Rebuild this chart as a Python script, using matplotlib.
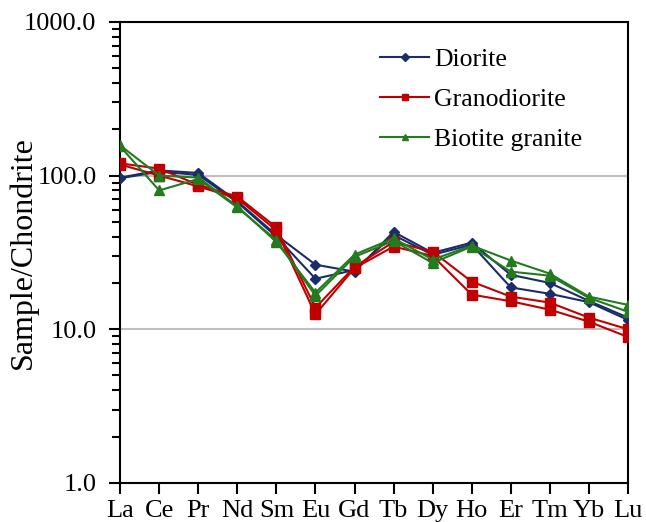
import matplotlib
matplotlib.use('Agg')
import matplotlib.pyplot as plt
from matplotlib.ticker import LogLocator, NullFormatter, FixedLocator

plt.rcParams['font.family'] = ['Liberation Serif', 'DejaVu Serif']

# éléments des terres rares (normalisés chondrite)
elements = ['La', 'Ce', 'Pr', 'Nd', 'Sm', 'Eu', 'Gd', 'Tb', 'Dy', 'Ho', 'Er', 'Tm', 'Yb', 'Lu']

diorite_1 = [97, 108, 104, 68, 41, 26.3, 23.7, 43, 31.4, 36.6, 22.6, 20.0, 15.3, 11.9]
diorite_2 = [96, 106, 101, 67, 40, 21.3, 24.3, 41, 30.5, 35.5, 18.7, 17.0, 15.0, 11.5]

granodiorite_1 = [120, 111, 87, 73, 46, 13.8, 25.5, 37, 32, 20.4, 16.3, 14.9, 11.9, 10.0]
granodiorite_2 = [118, 100, 85, 71, 44, 12.5, 25.0, 34.5, 30, 16.8, 15.2, 13.4, 11.2, 8.9]

granite_1 = [157, 100, 97, 63, 37, 17.3, 30.6, 39, 28.4, 35, 28.0, 23.0, 16.3, 14.4]
granite_2 = [155, 80, 95, 62, 38, 16.5, 29.6, 37.6, 27, 34.5, 23.7, 22.3, 16.0, 13.0]

groupes = [
    ('Diorite', [diorite_1, diorite_2], '#1b2c6b', 'D', 5.5),
    ('Granodiorite', [granodiorite_1, granodiorite_2], '#c00000', 's', 6.5),
    ('Biotite granite', [granite_1, granite_2], '#237a1f', '^', 6.5),
]

fig = plt.figure(figsize=(6.46, 5.22), dpi=100)
ax = fig.add_axes([0.186, 0.075, 0.786, 0.883])

x = list(range(len(elements)))
for nom, series, couleur, marqueur, taille in groupes:
    for k, s in enumerate(series):
        ax.plot(x, s, color=couleur, marker=marqueur, markersize=taille, lw=1.5,
                label=nom if k == 0 else None, zorder=3)

ax.set_yscale('log')
ax.set_ylim(1, 1000)
ax.set_xlim(0, len(elements) - 1)
ax.yaxis.set_major_locator(FixedLocator([1, 10, 100, 1000]))
ax.set_yticklabels(['1.0', '10.0', '100.0', '1000.0'])
ax.yaxis.set_minor_locator(LogLocator(base=10, subs=range(2, 10)))
ax.yaxis.set_minor_formatter(NullFormatter())
ax.set_xticks(x)
ax.set_xticklabels(elements)

ax.grid(True, axis='y', which='major', color='#c0c0c0', lw=1.5, zorder=0)
ax.tick_params(axis='both', which='major', direction='out', length=8, width=1.5, labelsize=19)
ax.tick_params(axis='y', which='minor', direction='out', length=6, width=1.5)
ax.tick_params(axis='x', pad=4)
ax.tick_params(axis='y', pad=9)
for sp in ax.spines.values():
    sp.set_linewidth(1.5)

ax.set_ylabel('Sample/Chondrite', fontsize=23)
ax.yaxis.set_label_coords(-0.163, 0.5)

leg = ax.legend(loc='upper left', bbox_to_anchor=(0.512, 0.943), borderaxespad=0, borderpad=0,
                frameon=False, fontsize=18.5, handlelength=1.9, handletextpad=0.2,
                labelspacing=0.65, markerscale=0.75)

fig.savefig('out.png', dpi=100)
